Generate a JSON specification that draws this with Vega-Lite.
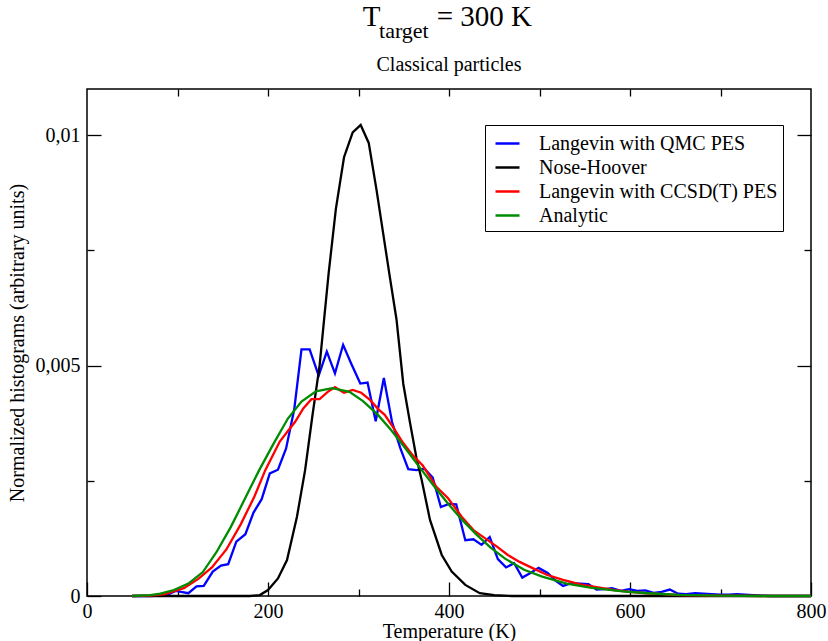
{
  "$schema": "https://vega.github.io/schema/vega-lite/v6.json",
  "width": 724,
  "height": 507,
  "autosize": {"type": "none"},
  "padding": {"left": 87, "top": 89, "right": 17, "bottom": 45},
  "background": "white",
  "config": {
    "view": {"stroke": "#000", "strokeWidth": 1.5},
    "font": "Liberation Serif",
    "axis": {"grid": false, "domain": false, "labelFont": "Liberation Serif", "titleFont": "Liberation Serif", "labelColor": "#000", "titleColor": "#000", "tickColor": "#000", "labelFontSize": 20, "titleFontSize": 20, "titleFontWeight": "normal", "tickWidth": 1.3}
  },
  "data": {"values": [
    {"series": "Langevin with QMC PES", "T": 50, "h": 0},
    {"series": "Langevin with QMC PES", "T": 60, "h": 0},
    {"series": "Langevin with QMC PES", "T": 70, "h": 0},
    {"series": "Langevin with QMC PES", "T": 80, "h": 0.01e-3},
    {"series": "Langevin with QMC PES", "T": 89, "h": 0.03e-3},
    {"series": "Langevin with QMC PES", "T": 98, "h": 0.11e-3},
    {"series": "Langevin with QMC PES", "T": 112, "h": 0.06e-3},
    {"series": "Langevin with QMC PES", "T": 121, "h": 0.21e-3},
    {"series": "Langevin with QMC PES", "T": 129, "h": 0.22e-3},
    {"series": "Langevin with QMC PES", "T": 139, "h": 0.53e-3},
    {"series": "Langevin with QMC PES", "T": 148, "h": 0.66e-3},
    {"series": "Langevin with QMC PES", "T": 156, "h": 0.69e-3},
    {"series": "Langevin with QMC PES", "T": 165, "h": 1.18e-3},
    {"series": "Langevin with QMC PES", "T": 175, "h": 1.34e-3},
    {"series": "Langevin with QMC PES", "T": 184, "h": 1.81e-3},
    {"series": "Langevin with QMC PES", "T": 193, "h": 2.10e-3},
    {"series": "Langevin with QMC PES", "T": 202, "h": 2.66e-3},
    {"series": "Langevin with QMC PES", "T": 211, "h": 2.74e-3},
    {"series": "Langevin with QMC PES", "T": 220, "h": 3.20e-3},
    {"series": "Langevin with QMC PES", "T": 229, "h": 4.05e-3},
    {"series": "Langevin with QMC PES", "T": 237, "h": 5.35e-3},
    {"series": "Langevin with QMC PES", "T": 246, "h": 5.35e-3},
    {"series": "Langevin with QMC PES", "T": 256, "h": 4.78e-3},
    {"series": "Langevin with QMC PES", "T": 265, "h": 5.30e-3},
    {"series": "Langevin with QMC PES", "T": 274, "h": 4.83e-3},
    {"series": "Langevin with QMC PES", "T": 283, "h": 5.45e-3},
    {"series": "Langevin with QMC PES", "T": 292, "h": 5.04e-3},
    {"series": "Langevin with QMC PES", "T": 302, "h": 4.61e-3},
    {"series": "Langevin with QMC PES", "T": 310, "h": 4.63e-3},
    {"series": "Langevin with QMC PES", "T": 319, "h": 3.79e-3},
    {"series": "Langevin with QMC PES", "T": 328, "h": 4.73e-3},
    {"series": "Langevin with QMC PES", "T": 337, "h": 3.78e-3},
    {"series": "Langevin with QMC PES", "T": 346, "h": 3.22e-3},
    {"series": "Langevin with QMC PES", "T": 355, "h": 2.75e-3},
    {"series": "Langevin with QMC PES", "T": 364, "h": 2.73e-3},
    {"series": "Langevin with QMC PES", "T": 373, "h": 2.76e-3},
    {"series": "Langevin with QMC PES", "T": 382, "h": 2.57e-3},
    {"series": "Langevin with QMC PES", "T": 391, "h": 1.93e-3},
    {"series": "Langevin with QMC PES", "T": 400, "h": 2.00e-3},
    {"series": "Langevin with QMC PES", "T": 408, "h": 1.99e-3},
    {"series": "Langevin with QMC PES", "T": 418, "h": 1.21e-3},
    {"series": "Langevin with QMC PES", "T": 427, "h": 1.23e-3},
    {"series": "Langevin with QMC PES", "T": 436, "h": 1.11e-3},
    {"series": "Langevin with QMC PES", "T": 445, "h": 1.28e-3},
    {"series": "Langevin with QMC PES", "T": 454, "h": 0.80e-3},
    {"series": "Langevin with QMC PES", "T": 463, "h": 0.62e-3},
    {"series": "Langevin with QMC PES", "T": 472, "h": 0.71e-3},
    {"series": "Langevin with QMC PES", "T": 481, "h": 0.40e-3},
    {"series": "Langevin with QMC PES", "T": 490, "h": 0.50e-3},
    {"series": "Langevin with QMC PES", "T": 499, "h": 0.61e-3},
    {"series": "Langevin with QMC PES", "T": 509, "h": 0.50e-3},
    {"series": "Langevin with QMC PES", "T": 518, "h": 0.33e-3},
    {"series": "Langevin with QMC PES", "T": 526, "h": 0.22e-3},
    {"series": "Langevin with QMC PES", "T": 535, "h": 0.28e-3},
    {"series": "Langevin with QMC PES", "T": 545, "h": 0.27e-3},
    {"series": "Langevin with QMC PES", "T": 554, "h": 0.26e-3},
    {"series": "Langevin with QMC PES", "T": 563, "h": 0.14e-3},
    {"series": "Langevin with QMC PES", "T": 572, "h": 0.15e-3},
    {"series": "Langevin with QMC PES", "T": 580, "h": 0.17e-3},
    {"series": "Langevin with QMC PES", "T": 590, "h": 0.11e-3},
    {"series": "Langevin with QMC PES", "T": 599, "h": 0.15e-3},
    {"series": "Langevin with QMC PES", "T": 608, "h": 0.11e-3},
    {"series": "Langevin with QMC PES", "T": 617, "h": 0.12e-3},
    {"series": "Langevin with QMC PES", "T": 626, "h": 0.07e-3},
    {"series": "Langevin with QMC PES", "T": 635, "h": 0.09e-3},
    {"series": "Langevin with QMC PES", "T": 644, "h": 0.14e-3},
    {"series": "Langevin with QMC PES", "T": 653, "h": 0.05e-3},
    {"series": "Langevin with QMC PES", "T": 662, "h": 0.04e-3},
    {"series": "Langevin with QMC PES", "T": 672, "h": 0.06e-3},
    {"series": "Langevin with QMC PES", "T": 681, "h": 0.05e-3},
    {"series": "Langevin with QMC PES", "T": 690, "h": 0.04e-3},
    {"series": "Langevin with QMC PES", "T": 700, "h": 0.03e-3},
    {"series": "Langevin with QMC PES", "T": 709, "h": 0.03e-3},
    {"series": "Langevin with QMC PES", "T": 718, "h": 0.04e-3},
    {"series": "Langevin with QMC PES", "T": 727, "h": 0.03e-3},
    {"series": "Langevin with QMC PES", "T": 736, "h": 0.02e-3},
    {"series": "Langevin with QMC PES", "T": 746, "h": 0.01e-3},
    {"series": "Langevin with QMC PES", "T": 755, "h": 0},
    {"series": "Langevin with QMC PES", "T": 800, "h": 0},

    {"series": "Nose-Hoover", "T": 50, "h": 0},
    {"series": "Nose-Hoover", "T": 180, "h": 0},
    {"series": "Nose-Hoover", "T": 191, "h": 0.02e-3},
    {"series": "Nose-Hoover", "T": 200, "h": 0.13e-3},
    {"series": "Nose-Hoover", "T": 211, "h": 0.38e-3},
    {"series": "Nose-Hoover", "T": 221, "h": 0.78e-3},
    {"series": "Nose-Hoover", "T": 232, "h": 1.72e-3},
    {"series": "Nose-Hoover", "T": 241, "h": 2.73e-3},
    {"series": "Nose-Hoover", "T": 249, "h": 3.9e-3},
    {"series": "Nose-Hoover", "T": 257, "h": 5.0e-3},
    {"series": "Nose-Hoover", "T": 262, "h": 6.0e-3},
    {"series": "Nose-Hoover", "T": 267, "h": 7.0e-3},
    {"series": "Nose-Hoover", "T": 275, "h": 8.4e-3},
    {"series": "Nose-Hoover", "T": 284, "h": 9.52e-3},
    {"series": "Nose-Hoover", "T": 293.6, "h": 10.06e-3},
    {"series": "Nose-Hoover", "T": 302.4, "h": 10.22e-3},
    {"series": "Nose-Hoover", "T": 311.3, "h": 9.83e-3},
    {"series": "Nose-Hoover", "T": 320, "h": 8.8e-3},
    {"series": "Nose-Hoover", "T": 327, "h": 7.9e-3},
    {"series": "Nose-Hoover", "T": 334, "h": 7.0e-3},
    {"series": "Nose-Hoover", "T": 342, "h": 6.0e-3},
    {"series": "Nose-Hoover", "T": 349.5, "h": 4.6e-3},
    {"series": "Nose-Hoover", "T": 357, "h": 3.75e-3},
    {"series": "Nose-Hoover", "T": 364, "h": 3.0e-3},
    {"series": "Nose-Hoover", "T": 370, "h": 2.5e-3},
    {"series": "Nose-Hoover", "T": 379, "h": 1.65e-3},
    {"series": "Nose-Hoover", "T": 392, "h": 0.89e-3},
    {"series": "Nose-Hoover", "T": 403, "h": 0.53e-3},
    {"series": "Nose-Hoover", "T": 418, "h": 0.24e-3},
    {"series": "Nose-Hoover", "T": 434, "h": 0.06e-3},
    {"series": "Nose-Hoover", "T": 450, "h": 0.02e-3},
    {"series": "Nose-Hoover", "T": 470, "h": 0},
    {"series": "Nose-Hoover", "T": 800, "h": 0},

    {"series": "Langevin with CCSD(T) PES", "T": 50, "h": 0},
    {"series": "Langevin with CCSD(T) PES", "T": 70, "h": 0.01e-3},
    {"series": "Langevin with CCSD(T) PES", "T": 86, "h": 0.04e-3},
    {"series": "Langevin with CCSD(T) PES", "T": 107, "h": 0.17e-3},
    {"series": "Langevin with CCSD(T) PES", "T": 123, "h": 0.37e-3},
    {"series": "Langevin with CCSD(T) PES", "T": 138, "h": 0.62e-3},
    {"series": "Langevin with CCSD(T) PES", "T": 154, "h": 1.01e-3},
    {"series": "Langevin with CCSD(T) PES", "T": 170, "h": 1.56e-3},
    {"series": "Langevin with CCSD(T) PES", "T": 185, "h": 2.16e-3},
    {"series": "Langevin with CCSD(T) PES", "T": 197, "h": 2.73e-3},
    {"series": "Langevin with CCSD(T) PES", "T": 213, "h": 3.35e-3},
    {"series": "Langevin with CCSD(T) PES", "T": 222, "h": 3.58e-3},
    {"series": "Langevin with CCSD(T) PES", "T": 230, "h": 3.78e-3},
    {"series": "Langevin with CCSD(T) PES", "T": 239, "h": 4.07e-3},
    {"series": "Langevin with CCSD(T) PES", "T": 248, "h": 4.27e-3},
    {"series": "Langevin with CCSD(T) PES", "T": 257, "h": 4.27e-3},
    {"series": "Langevin with CCSD(T) PES", "T": 266, "h": 4.43e-3},
    {"series": "Langevin with CCSD(T) PES", "T": 274, "h": 4.53e-3},
    {"series": "Langevin with CCSD(T) PES", "T": 284, "h": 4.41e-3},
    {"series": "Langevin with CCSD(T) PES", "T": 293.6, "h": 4.47e-3},
    {"series": "Langevin with CCSD(T) PES", "T": 303, "h": 4.41e-3},
    {"series": "Langevin with CCSD(T) PES", "T": 313, "h": 4.25e-3},
    {"series": "Langevin with CCSD(T) PES", "T": 322, "h": 4.05e-3},
    {"series": "Langevin with CCSD(T) PES", "T": 329, "h": 3.93e-3},
    {"series": "Langevin with CCSD(T) PES", "T": 338, "h": 3.67e-3},
    {"series": "Langevin with CCSD(T) PES", "T": 349, "h": 3.33e-3},
    {"series": "Langevin with CCSD(T) PES", "T": 360, "h": 3.05e-3},
    {"series": "Langevin with CCSD(T) PES", "T": 371, "h": 2.83e-3},
    {"series": "Langevin with CCSD(T) PES", "T": 386, "h": 2.37e-3},
    {"series": "Langevin with CCSD(T) PES", "T": 399, "h": 2.12e-3},
    {"series": "Langevin with CCSD(T) PES", "T": 414, "h": 1.72e-3},
    {"series": "Langevin with CCSD(T) PES", "T": 427, "h": 1.43e-3},
    {"series": "Langevin with CCSD(T) PES", "T": 440, "h": 1.25e-3},
    {"series": "Langevin with CCSD(T) PES", "T": 453, "h": 1.07e-3},
    {"series": "Langevin with CCSD(T) PES", "T": 465, "h": 0.89e-3},
    {"series": "Langevin with CCSD(T) PES", "T": 478, "h": 0.74e-3},
    {"series": "Langevin with CCSD(T) PES", "T": 493, "h": 0.60e-3},
    {"series": "Langevin with CCSD(T) PES", "T": 508, "h": 0.46e-3},
    {"series": "Langevin with CCSD(T) PES", "T": 526, "h": 0.35e-3},
    {"series": "Langevin with CCSD(T) PES", "T": 545, "h": 0.25e-3},
    {"series": "Langevin with CCSD(T) PES", "T": 563, "h": 0.19e-3},
    {"series": "Langevin with CCSD(T) PES", "T": 582, "h": 0.13e-3},
    {"series": "Langevin with CCSD(T) PES", "T": 600, "h": 0.09e-3},
    {"series": "Langevin with CCSD(T) PES", "T": 618, "h": 0.06e-3},
    {"series": "Langevin with CCSD(T) PES", "T": 637, "h": 0.04e-3},
    {"series": "Langevin with CCSD(T) PES", "T": 655, "h": 0.02e-3},
    {"series": "Langevin with CCSD(T) PES", "T": 700, "h": 0.01e-3},
    {"series": "Langevin with CCSD(T) PES", "T": 750, "h": 0},
    {"series": "Langevin with CCSD(T) PES", "T": 800, "h": 0},

    {"series": "Analytic", "T": 50, "h": 0},
    {"series": "Analytic", "T": 70, "h": 0.02e-3},
    {"series": "Analytic", "T": 81, "h": 0.05e-3},
    {"series": "Analytic", "T": 96, "h": 0.13e-3},
    {"series": "Analytic", "T": 112, "h": 0.27e-3},
    {"series": "Analytic", "T": 128, "h": 0.52e-3},
    {"series": "Analytic", "T": 143, "h": 0.95e-3},
    {"series": "Analytic", "T": 159, "h": 1.5e-3},
    {"series": "Analytic", "T": 175, "h": 2.13e-3},
    {"series": "Analytic", "T": 190, "h": 2.72e-3},
    {"series": "Analytic", "T": 206, "h": 3.3e-3},
    {"series": "Analytic", "T": 222, "h": 3.85e-3},
    {"series": "Analytic", "T": 237, "h": 4.22e-3},
    {"series": "Analytic", "T": 253, "h": 4.44e-3},
    {"series": "Analytic", "T": 271, "h": 4.51e-3},
    {"series": "Analytic", "T": 290, "h": 4.43e-3},
    {"series": "Analytic", "T": 305, "h": 4.23e-3},
    {"series": "Analytic", "T": 321, "h": 3.94e-3},
    {"series": "Analytic", "T": 336, "h": 3.6e-3},
    {"series": "Analytic", "T": 352, "h": 3.2e-3},
    {"series": "Analytic", "T": 368, "h": 2.78e-3},
    {"series": "Analytic", "T": 384, "h": 2.37e-3},
    {"series": "Analytic", "T": 399, "h": 2.0e-3},
    {"series": "Analytic", "T": 415, "h": 1.64e-3},
    {"series": "Analytic", "T": 431, "h": 1.32e-3},
    {"series": "Analytic", "T": 446, "h": 1.05e-3},
    {"series": "Analytic", "T": 462, "h": 0.81e-3},
    {"series": "Analytic", "T": 483, "h": 0.57e-3},
    {"series": "Analytic", "T": 503, "h": 0.42e-3},
    {"series": "Analytic", "T": 530, "h": 0.27e-3},
    {"series": "Analytic", "T": 556, "h": 0.18e-3},
    {"series": "Analytic", "T": 592, "h": 0.10e-3},
    {"series": "Analytic", "T": 620, "h": 0.06e-3},
    {"series": "Analytic", "T": 655, "h": 0.025e-3},
    {"series": "Analytic", "T": 700, "h": 0.01e-3},
    {"series": "Analytic", "T": 750, "h": 0},
    {"series": "Analytic", "T": 800, "h": 0}
  ]},
  "resolve": {"axis": {"x": "independent", "y": "independent"}},
  "layer": [
    {
      "mark": {"type": "line", "strokeWidth": 2.3},
      "encoding": {
        "x": {"field": "T", "type": "quantitative", "scale": {"domain": [0, 800], "nice": false},
          "axis": {"orient": "bottom", "values": [0, 200, 400, 600, 800], "ticks": false, "labelPadding": 5, "labelFlush": false, "title": "Temperature (K)", "titlePadding": 0}},
        "y": {"field": "h", "type": "quantitative", "scale": {"domain": [0, 0.011], "nice": false},
          "axis": {"orient": "left", "values": [0, 0.005, 0.01], "ticks": false, "labelPadding": 7, "labelFlush": false, "labelExpr": "datum.value == 0 ? '0' : replace(format(datum.value, '.3~f'), '.', ',')", "title": "Normalized histograms (arbitrary units)", "titlePadding": 8}},
        "color": {"field": "series", "type": "nominal",
          "scale": {"domain": ["Langevin with QMC PES", "Nose-Hoover", "Langevin with CCSD(T) PES", "Analytic"], "range": ["#0000ff", "#000000", "#ff0000", "#008b00"]},
          "legend": {"orient": "none", "legendX": 398, "legendY": 36, "title": null, "strokeColor": "#000", "fillColor": "#fff", "padding": 5, "symbolOffset": 4, "symbolType": "stroke", "symbolSize": 576, "symbolStrokeWidth": 2.5, "labelFont": "Liberation Serif", "labelFontSize": 20, "labelColor": "#000", "labelOffset": 18, "labelLimit": 400, "rowPadding": 0}}
      }
    },
    {
      "mark": {"type": "point", "opacity": 0},
      "encoding": {
        "x": {"field": "T", "type": "quantitative",
          "axis": {"orient": "bottom", "values": [0, 100, 200, 300, 400, 500, 600, 700, 800], "labels": false, "title": null, "tickSize": {"condition": {"test": "datum.value % 200 == 0", "value": -14}, "value": -7}}},
        "y": {"field": "h", "type": "quantitative",
          "axis": {"orient": "left", "values": [0, 0.0025, 0.005, 0.0075, 0.01], "labels": false, "title": null, "tickSize": {"condition": {"test": "datum.value == 0.005 || datum.value == 0.01 || datum.value == 0", "value": -14}, "value": -7}}}
      }
    },
    {
      "mark": {"type": "point", "opacity": 0},
      "encoding": {
        "x": {"field": "T", "type": "quantitative",
          "axis": {"orient": "top", "values": [100, 200, 300, 400, 500, 600, 700], "labels": false, "title": null, "tickSize": -7}},
        "y": {"field": "h", "type": "quantitative",
          "axis": {"orient": "right", "values": [0.0025, 0.005, 0.0075, 0.01], "labels": false, "title": null, "tickSize": {"condition": {"test": "datum.value == 0.005 || datum.value == 0.01", "value": -14}, "value": -7}}}
      }
    },
    {
      "data": {"values": [{}]},
      "mark": {"type": "text", "text": "T", "font": "Liberation Serif", "fontSize": 29, "align": "left", "baseline": "alphabetic", "color": "#000"},
      "encoding": {"x": {"datum": 304.6, "type": "quantitative", "axis": null}, "y": {"datum": 0.012367, "type": "quantitative", "axis": null}}
    },
    {
      "data": {"values": [{}]},
      "mark": {"type": "text", "text": "target", "font": "Liberation Serif", "fontSize": 22, "align": "left", "baseline": "alphabetic", "color": "#000"},
      "encoding": {"x": {"datum": 322.7, "type": "quantitative", "axis": null}, "y": {"datum": 0.012106, "type": "quantitative", "axis": null}}
    },
    {
      "data": {"values": [{}]},
      "mark": {"type": "text", "text": "= 300 K", "font": "Liberation Serif", "fontSize": 29, "align": "left", "baseline": "alphabetic", "color": "#000"},
      "encoding": {"x": {"datum": 386.4, "type": "quantitative", "axis": null}, "y": {"datum": 0.012367, "type": "quantitative", "axis": null}}
    },
    {
      "data": {"values": [{}]},
      "mark": {"type": "text", "text": "Classical particles", "font": "Liberation Serif", "fontSize": 20, "align": "center", "baseline": "alphabetic", "color": "#000"},
      "encoding": {"x": {"datum": 400, "type": "quantitative", "axis": null}, "y": {"datum": 0.01139, "type": "quantitative", "axis": null}}
    }
  ]
}
